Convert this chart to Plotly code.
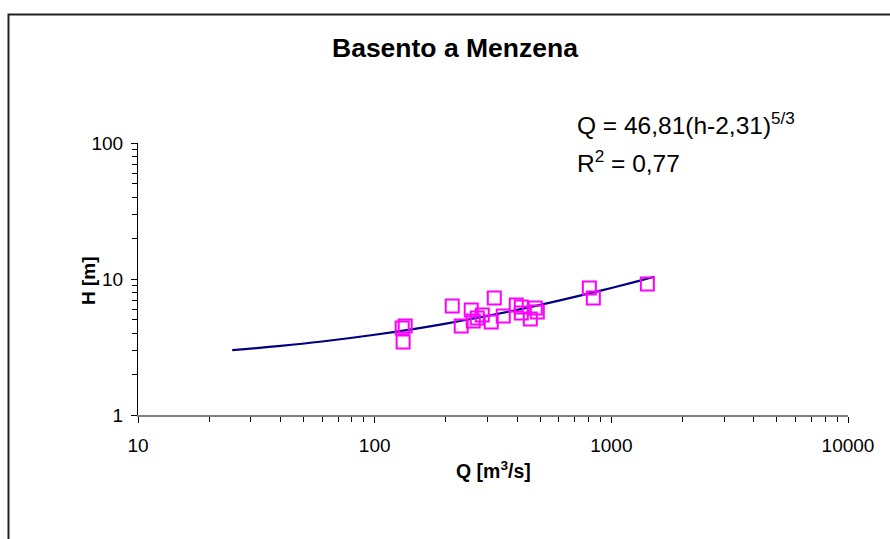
import plotly.graph_objects as go

q_obs = [130.7, 134.6, 131.9, 212.7, 232.1, 255.9, 261.0, 271.4, 284.9, 320.2, 310.9,
         349.4, 396.6, 416.4, 416.4, 454.6, 477.2, 486.6, 807.4, 839.5, 1420]
h_obs = [4.36, 4.51, 3.44, 6.33, 4.51, 5.92, 4.91, 5.17, 5.44, 7.25, 4.83,
         5.35, 6.44, 6.23, 5.62, 5.08, 6.12, 5.72, 8.59, 7.25, 9.19]

# Rating curve
q_fit = [25, 40, 60, 100, 150, 200, 300, 400, 600, 800, 1000, 1250, 1520]
h_fit = [3.00, 3.22, 3.47, 3.89, 4.32, 4.70, 5.36, 5.93, 6.93, 7.80, 8.59, 9.49, 10.38]

x_ticks = [10, 100, 1000, 10000]
y_ticks = [1, 10, 100]
x_minor = [m * d for d in (10, 100, 1000) for m in range(2, 10)]
y_minor = [m * d for d in (1, 10) for m in range(2, 10)]

FAM = "Liberation Sans, Arial, sans-serif"

fig = go.Figure()
fig.add_trace(go.Scatter(x=q_fit, y=h_fit, mode="lines", line=dict(color="#000080", width=2.2, shape="spline"),
                         showlegend=False, hoverinfo="skip"))
fig.add_trace(go.Scatter(x=q_obs, y=h_obs, mode="markers",
                         marker=dict(symbol="square-open", size=13, color="#FF00FF", line=dict(width=2, color="#FF00FF")),
                         showlegend=False))

fig.update_layout(
    width=890, height=539,
    margin=dict(l=138, r=42, t=143, b=124),
    paper_bgcolor="white", plot_bgcolor="white",
    font=dict(family=FAM, size=19, color="black"),
    xaxis=dict(type="log", range=[1, 4], tickvals=x_ticks, ticktext=[str(v) for v in x_ticks],
               showgrid=False, zeroline=False, showline=True, linecolor="#808080", linewidth=2,
               ticks="outside", ticklen=6, tickcolor="black", tickwidth=1,
               minor=dict(tickvals=x_minor, ticks="outside", ticklen=5, tickcolor="black", showgrid=False),
               tickfont=dict(family=FAM, size=19, color="black"), ticklabelstandoff=6),
    yaxis=dict(type="log", range=[0, 2], tickvals=y_ticks, ticktext=[str(v) for v in y_ticks],
               showgrid=False, zeroline=False, showline=True, linecolor="black", linewidth=1,
               ticks="outside", ticklen=6, tickcolor="black", tickwidth=1,
               minor=dict(tickvals=y_minor, ticks="outside", ticklen=5, tickcolor="black", showgrid=False),
               tickfont=dict(family=FAM, size=19, color="black"), ticklabelstandoff=4),
)


def px(x):
    return (x - 138) / 710


def py(y):
    return (415 - y) / 272


fig.add_annotation(text="<b>Basento a Menzena</b>", xref="paper", yref="paper",
                   x=px(455), y=py(48), showarrow=False,
                   font=dict(family=FAM, size=26.5, color="black"), xanchor="center", yanchor="middle")
fig.add_annotation(text="<b>H [m]</b>", xref="paper", yref="paper",
                   x=px(88), y=py(281), showarrow=False, textangle=-90,
                   font=dict(family=FAM, size=19, color="black"), xanchor="center", yanchor="middle")
fig.add_annotation(text="<b>Q [m<sup>3</sup>/s]</b>", xref="paper", yref="paper",
                   x=px(493), y=py(470), showarrow=False,
                   font=dict(family=FAM, size=19.5, color="black"), xanchor="center", yanchor="middle")
fig.add_annotation(text="Q = 46,81(h-2,31)<sup>5/3</sup>", xref="paper", yref="paper",
                   x=px(575), y=py(123), showarrow=False,
                   font=dict(family=FAM, size=24.5, color="black"), xanchor="left", yanchor="middle")
fig.add_annotation(text="R<sup>2</sup> = 0,77", xref="paper", yref="paper",
                   x=px(575), y=py(161), showarrow=False,
                   font=dict(family=FAM, size=24.5, color="black"), xanchor="left", yanchor="middle")

fig.add_shape(type="rect", xref="paper", yref="paper",
              x0=px(8.5), x1=px(950), y0=py(600), y1=py(14.5),
              line=dict(color="#222222", width=2), layer="below")

fig.write_html("out.html", config={"displayModeBar": False},
               post_script="document.body.style.margin='0px';document.body.style.overflow='hidden';")
